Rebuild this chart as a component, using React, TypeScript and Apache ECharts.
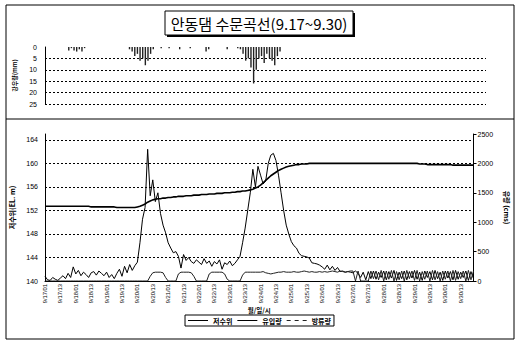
import React, { useEffect, useRef } from 'react';
import * as echarts from 'echarts';

const days = [17, 18, 19, 20, 21, 22, 23, 24, 25, 26, 27, 28, 29, 30];
const hours = ['01', '03', '05', '07', '09', '11', '13', '15', '17', '19', '21', '23'];
const categories = days.flatMap((d) => hours.map((h) => `9/${d}/${h}`));

const rainTicks = [0, 5, 10, 15, 20, 25];
const levelTicks = [140, 144, 148, 152, 156, 160, 164];
const flowTicks = [0, 500, 1000, 1500, 2000, 2500];

// 강우량 (mm), 2-hour steps
const rain = [
  0, 0, 0, 0, 0, 0, 0, 0, 0, 1.5, 0.5, 1.5,
  2, 1, 2, 0.5, 0, 0, 0, 0, 0, 0, 0, 0,
  0, 0, 0, 0, 0, 0, 0, 0, 1, 2, 4, 3,
  6, 5, 8, 6, 3, 1, 0, 0, 0.5, 0, 0, 0.5,
  0, 0, 0, 1, 0, 0, 0, 0.5, 0, 0, 0, 0,
  0, 2, 1, 0, 0, 0, 0, 0, 0, 1, 0, 0,
  0, 0.5, 1, 3, 6, 5, 9, 16, 10, 5, 4, 7,
  3, 5, 6, 8, 4, 2, 0, 0, 0, 0, 0, 0,
  0, 0, 0, 0, 0, 0, 0, 0, 0, 0, 0, 0,
  0, 0, 0, 0, 0, 0, 0, 0, 0, 0, 0, 0,
  0, 0, 0, 0, 0, 0, 0, 0, 0, 0, 0, 0,
  0, 0, 0, 0, 0, 0, 0, 0, 0, 0, 0, 0,
  0, 0, 0, 0, 0, 0, 0, 0, 0, 0, 0, 0,
  0, 0, 0, 0, 0, 0, 0, 0, 0, 0, 0, 0,
];

// 저수위 (EL. m)
const level = [
  152.7, 152.7, 152.7, 152.7, 152.7, 152.7, 152.7, 152.7, 152.7, 152.7, 152.7, 152.7,
  152.7, 152.7, 152.7, 152.7, 152.7, 152.7, 152.6, 152.6, 152.6, 152.6, 152.6, 152.6,
  152.6, 152.6, 152.6, 152.6, 152.5, 152.5, 152.5, 152.5, 152.5, 152.5, 152.5, 152.5,
  152.6, 152.7, 152.9, 153.1, 153.4, 153.6, 153.8, 153.9, 154.0, 154.0, 154.1, 154.1,
  154.2, 154.2, 154.3, 154.3, 154.4, 154.4, 154.4, 154.5, 154.5, 154.5, 154.6, 154.6,
  154.6, 154.7, 154.7, 154.7, 154.8, 154.8, 154.8, 154.9, 154.9, 154.9, 155.0, 155.0,
  155.0, 155.1, 155.1, 155.2, 155.2, 155.3, 155.3, 155.4, 155.5, 155.6, 155.8, 156.0,
  156.3, 156.7, 157.1, 157.5, 157.9, 158.2, 158.5, 158.8, 159.0, 159.2, 159.4, 159.5,
  159.6, 159.7, 159.8, 159.8, 159.9, 159.9, 159.9, 160.0, 160.0, 160.0, 160.0, 160.0,
  160.0, 160.0, 160.0, 160.0, 160.0, 160.0, 160.0, 160.0, 160.0, 160.0, 160.0, 160.0,
  160.0, 160.0, 160.0, 160.0, 160.0, 160.0, 160.0, 160.0, 160.0, 160.0, 160.0, 160.0,
  160.0, 160.0, 160.0, 160.0, 160.0, 160.0, 160.0, 160.0, 160.0, 160.0, 160.0, 160.0,
  160.0, 160.0, 159.9, 159.9, 159.9, 159.8, 159.8, 159.8, 159.8, 159.8, 159.8, 159.8,
  159.8, 159.8, 159.8, 159.7, 159.7, 159.7, 159.7, 159.7, 159.7, 159.7, 159.7, 159.7,
];

// 유입량 (cms)
const inflow = [
  80, 20, 10, 60, 30, 10, 50, 90, 40, 130, 60, 240,
  120, 180, 90, 150, 110, 60, 140, 160, 100, 170, 130, 90,
  150, 60, 110, 40, 130, 200, 80, 250, 140, 280, 180, 260,
  320, 650, 1050, 1250, 2240, 1450, 1720, 1350, 1500, 1150, 950, 820,
  650, 560, 480, 500, 420, 220, 450, 350, 400, 330, 300, 360,
  320, 280, 380, 300, 340, 250, 330, 290, 360, 200, 310, 280,
  340, 260, 300, 360, 420, 650, 900, 1200, 1500, 1900, 1600, 1950,
  1800, 1650, 1700, 2000, 2140, 2170, 2050, 1800, 1500, 1200, 950, 800,
  670, 600, 560, 470, 430, 420, 410, 390, 310, 300, 290, 270,
  240, 200, 270, 190, 250, 180, 230, 160, 170, 150, 160, 150,
  140, 170, 130, 60, 150, 20, 160, 40, 170, 30, 150, 60,
  170, 20, 160, 50, 180, 10, 150, 40, 170, 20, 160, 50,
  180, 30, 150, 10, 170, 60, 160, 20, 180, 40, 150, 10,
  170, 50, 160, 20, 180, 30, 150, 60, 170, 10, 160, 40,
];

// 방류량 (cms)
const outflow = [
  0, 0, 0, 0, 0, 0, 0, 0, 0, 0, 0, 0,
  0, 0, 0, 0, 0, 0, 0, 0, 0, 0, 0, 0,
  0, 0, 0, 0, 0, 0, 0, 0, 0, 0, 0, 0,
  0, 0, 0, 0, 0, 80, 140, 150, 150, 150, 140, 60,
  0, 0, 0, 0, 120, 150, 150, 150, 150, 140, 80, 0,
  0, 0, 0, 0, 120, 150, 150, 150, 150, 150, 120, 30,
  0, 0, 0, 0, 0, 100, 150, 150, 150, 150, 150, 150,
  150, 160, 140, 130, 120, 130, 140, 150, 150, 160, 150, 150,
  150, 160, 150, 150, 160, 170, 160, 150, 160, 150, 150, 160,
  150, 160, 150, 160, 170, 160, 150, 170, 160, 150, 160, 170,
  170, 0, 170, 0, 0, 0, 0, 170, 40, 170, 20, 180,
  0, 170, 30, 180, 0, 160, 20, 170, 0, 180, 40, 170,
  10, 180, 0, 160, 30, 170, 0, 180, 20, 160, 0, 170,
  30, 170, 0, 180, 10, 160, 40, 170, 0, 180, 20, 170,
];

const FONT = "'Liberation Sans', 'Noto Sans CJK KR', sans-serif";
const KR = "'Noto Sans CJK KR', 'Liberation Sans', sans-serif";
const SOLID_ICON = 'path://M0,0h20v1h-20z';
const DASH_ICON = 'path://M0,0h4v1h-4zM8,0h4v1h-4zM16,0h4v1h-4z';

export default function App() {
  const ref = useRef<HTMLDivElement>(null);
  useEffect(() => {
    document.body.style.margin = '0';
    const chart = echarts.init(ref.current!, undefined, { renderer: 'svg' });
    const axisColor = '#000';
    const option: any = {
      animation: false,
      backgroundColor: '#fff',
      textStyle: { fontFamily: FONT },
      grid: [
        { left: 45, right: 33, top: 47, height: 57 },
        { left: 45, right: 33, top: 134, height: 147 },
      ],
      xAxis: [
        { gridIndex: 0, type: 'category', data: categories, boundaryGap: false, show: false },
        {
          gridIndex: 1, type: 'category', data: categories, boundaryGap: false,
          axisLine: { lineStyle: { color: axisColor, width: 1 } },
          axisTick: { show: false },
          axisLabel: {
            rotate: 90, fontSize: 5.8, color: '#000', margin: 3,
            interval: (i: number) => i % 6 === 0,
          },
          name: '월/일/시', nameLocation: 'middle', nameGap: 26,
          nameTextStyle: { fontSize: 6.5, fontWeight: 'bold', fontFamily: KR, color: '#000' },
        },
      ],
      yAxis: [
        {
          gridIndex: 0, type: 'value', inverse: true,
          min: rainTicks[0], max: rainTicks[rainTicks.length - 1], interval: 5,
          axisLine: { show: true, lineStyle: { color: axisColor } },
          axisTick: { show: false },
          axisLabel: { fontSize: 7, color: '#000', margin: 8 },
          splitLine: { show: true, showMinLine: false, lineStyle: { type: [2, 2], color: '#000', width: 1 } },
          name: '강우량(mm)', nameLocation: 'middle', nameRotate: 90, nameGap: 28,
          nameTextStyle: { fontSize: 6, fontWeight: 'bold', fontFamily: KR, color: '#000' },
        },
        {
          gridIndex: 1, type: 'value',
          min: levelTicks[0], max: 165, interval: 4,
          axisLine: { show: true, lineStyle: { color: axisColor } },
          axisTick: { show: false },
          axisLabel: { fontSize: 7, color: '#000', margin: 7, showMaxLabel: false },
          splitLine: { show: true, showMinLine: false, showMaxLine: false, lineStyle: { type: [2, 2], color: '#000', width: 1 } },
          name: '저수위(EL. m)', nameLocation: 'middle', nameRotate: 90, nameGap: 30,
          nameTextStyle: { fontSize: 7, fontWeight: 'bold', fontFamily: KR, color: '#000' },
        },
        {
          gridIndex: 1, type: 'value', position: 'right',
          min: flowTicks[0], max: flowTicks[flowTicks.length - 1], interval: 500,
          axisLine: { show: true, lineStyle: { color: axisColor } },
          axisTick: { show: true, length: 3, lineStyle: { color: '#000' } },
          axisLabel: { fontSize: 7, color: '#000', margin: 4, formatter: (v: number) => String(v) },
          splitLine: { show: false },
          name: '유량 (cms)', nameLocation: 'middle', nameRotate: -90, nameGap: 24,
          nameTextStyle: { fontSize: 7, fontWeight: 'bold', fontFamily: KR, color: '#000' },
        },
      ],
      legend: {
        data: [
          { name: '저수위', icon: SOLID_ICON },
          { name: '유입량', icon: SOLID_ICON },
          { name: '방류량', icon: DASH_ICON },
        ],
        left: 'center', top: 315,
        borderColor: '#000', borderWidth: 1, padding: [2, 3],
        itemWidth: 20, itemHeight: 1, itemGap: 5,
        textStyle: { fontSize: 7, fontWeight: 'bold', fontFamily: KR, color: '#000' },
      },
      series: [
        {
          name: '강우량', type: 'bar', xAxisIndex: 0, yAxisIndex: 0,
          data: rain, barWidth: 1.4, itemStyle: { color: '#222' },
        },
        {
          name: '저수위', type: 'line', xAxisIndex: 1, yAxisIndex: 1,
          data: level, symbol: 'none', lineStyle: { color: '#000', width: 1.6 }, itemStyle: { color: '#000' },
        },
        {
          name: '유입량', type: 'line', xAxisIndex: 1, yAxisIndex: 2,
          data: inflow, symbol: 'none', lineStyle: { color: '#000', width: 1 }, itemStyle: { color: '#000' },
        },
        {
          name: '방류량', type: 'line', xAxisIndex: 1, yAxisIndex: 2,
          data: outflow, symbol: 'none', lineStyle: { color: '#222', width: 1 }, itemStyle: { color: '#222' },
        },
      ],
      graphic: [
        { type: 'rect', shape: { x: 6, y: 5, width: 508, height: 334 }, style: { fill: 'none', stroke: '#000', lineWidth: 1 }, silent: true },
        { type: 'line', shape: { x1: 6, y1: 119, x2: 514, y2: 119 }, style: { stroke: '#000', lineWidth: 1 }, silent: true },
        { type: 'rect', shape: { x: 167, y: 13, width: 188, height: 24 }, style: { fill: '#000' }, silent: true },
        { type: 'rect', shape: { x: 165, y: 11, width: 188, height: 24 }, style: { fill: '#fff', stroke: '#000', lineWidth: 1 }, silent: true },
        {
          type: 'text', x: 259, y: 23, silent: true,
          style: {
            text: '안동댐 수문곡선(9.17~9.30)', fontSize: 15, fontFamily: KR,
            fill: '#000', align: 'center', verticalAlign: 'middle',
          },
        },
      ],
    };
    chart.setOption(option);
    return () => chart.dispose();
  }, []);
  return <div ref={ref} style={{ position: 'absolute', left: 0, top: 0, width: 519, height: 342 }} />;
}
